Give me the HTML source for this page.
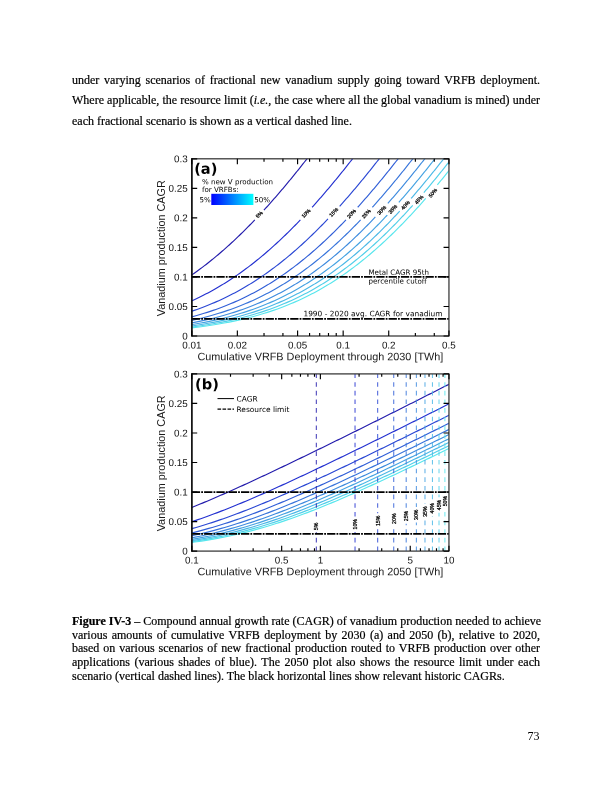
<!DOCTYPE html>
<html><head><meta charset="utf-8"><title>Page 73</title>
<style>
html,body{margin:0;padding:0;background:#fff;}
body{width:612px;height:792px;position:relative;overflow:hidden;font-family:"Liberation Serif",serif;color:#000;}
.p{position:absolute;left:72px;width:468px;font-size:12px;text-align:justify;margin:0;-webkit-text-stroke:0.2px #000;}
.body{top:69.6px;line-height:20.7px;}
.body span.l{display:block;text-align:justify;text-align-last:justify;white-space:nowrap;}
.body span.e{display:block;text-align:left;}
.cap{top:614.8px;line-height:13.8px;}
.cap span.l{display:block;text-align:justify;text-align-last:justify;white-space:nowrap;}
.cap span.e{display:block;}
.pn{position:absolute;left:527.4px;top:729.7px;font-size:12px;line-height:13.8px;}
svg text{font-family:"Liberation Sans",sans-serif;fill:#1a1a1a;}
svg text.tk{font-size:9.85px;fill:#111;}
svg text.ax{font-size:10.85px;}
svg text.an{font-family:"DejaVu Sans",sans-serif;font-size:7.1px;fill:#000;}
svg text.lg{font-size:7.45px;}
svg text.pl{font-family:"DejaVu Sans",sans-serif;font-weight:bold;font-size:14.6px;fill:#000;}
svg text.cl{font-size:5.2px;fill:#000;stroke:#000;stroke-width:0.25px;}
</style></head><body>
<p class="p body"><span class="l">under varying scenarios of fractional new vanadium supply going toward VRFB deployment.</span><span class="l">Where applicable, the resource limit (<i>i.e.</i>, the case where all the global vanadium is mined) under</span><span class="e">each fractional scenario is shown as a vertical dashed line.</span></p>
<svg width="612" height="792" viewBox="0 0 612 792" style="position:absolute;left:0;top:0">
<defs><linearGradient id="cb" x1="0" x2="1" y1="0" y2="0"><stop offset="0" stop-color="#0000ff"/><stop offset="1" stop-color="#00ffff"/></linearGradient>
<clipPath id="ca"><rect x="191.8" y="158.8" width="257.15" height="177.20"/></clipPath>
<clipPath id="cbb"><rect x="191.8" y="373.9" width="257.15" height="177.20"/></clipPath></defs>
<g clip-path="url(#ca)">
<path d="M-179.96 335.70L-83.84 334.73L-46.08 333.76L-22.06 332.79L-4.35 331.81L9.72 330.84L21.40 329.87L31.41 328.89L40.17 327.92L47.98 326.95L55.02 325.97L61.44 325.00L67.34 324.03L72.81 323.05L77.90 322.08L82.68 321.11L87.17 320.13L91.42 319.16L95.45 318.19L99.28 317.22L102.93 316.24L106.43 315.27L109.78 314.30L113.00 313.32L116.10 312.35L119.09 311.38L121.97 310.40L124.77 309.43L127.47 308.46L130.09 307.48L132.64 306.51L135.11 305.54L137.52 304.56L139.87 303.59L142.15 302.62L144.39 301.65L146.56 300.67L148.69 299.70L150.78 298.73L152.82 297.75L154.81 296.78L156.77 295.81L158.69 294.83L160.57 293.86L162.42 292.89L164.23 291.91L166.02 290.94L167.77 289.97L169.49 288.99L171.19 288.02L172.86 287.05L174.51 286.08L176.13 285.10L177.72 284.13L179.30 283.16L180.85 282.18L182.38 281.21L183.89 280.24L185.38 279.26L186.85 278.29L188.30 277.32L189.74 276.34L191.16 275.37L192.56 274.40L193.95 273.42L195.32 272.45L196.68 271.48L198.02 270.51L199.35 269.53L200.66 268.56L201.96 267.59L203.25 266.61L204.52 265.64L205.79 264.67L207.04 263.69L208.28 262.72L209.51 261.75L210.73 260.77L211.93 259.80L213.13 258.83L214.32 257.85L215.49 256.88L216.66 255.91L217.82 254.94L218.97 253.96L220.11 252.99L221.24 252.02L222.37 251.04L223.48 250.07L224.59 249.10L225.69 248.12L226.78 247.15L227.86 246.18L228.94 245.20L230.01 244.23L231.07 243.26L232.13 242.28L233.18 241.31L234.22 240.34L235.26 239.37L236.29 238.39L237.31 237.42L238.33 236.45L239.34 235.47L240.35 234.50L241.35 233.53L242.34 232.55L243.33 231.58L244.32 230.61L245.29 229.63L246.27 228.66L247.24 227.69L248.20 226.71L249.16 225.74L250.11 224.77L251.06 223.80L252.01 222.82L252.95 221.85L253.88 220.88L254.81 219.90" fill="none" stroke="#231cac" stroke-width="1.15"/>
<path d="M263.91 210.17L264.80 209.20L265.68 208.23L266.56 207.25L267.44 206.28L268.31 205.31L269.18 204.33L270.05 203.36L270.92 202.39L271.78 201.41L272.64 200.44L273.49 199.47L274.34 198.49L275.19 197.52L276.04 196.55L276.88 195.57L277.72 194.60L278.56 193.63L279.40 192.66L280.23 191.68L281.06 190.71L281.88 189.74L282.71 188.76L283.53 187.79L284.35 186.82L285.17 185.84L285.98 184.87L286.79 183.90L287.60 182.92L288.41 181.95L289.21 180.98L290.01 180.00L290.81 179.03L291.61 178.06L292.41 177.09L293.20 176.11L293.99 175.14L294.78 174.17L295.57 173.19L296.35 172.22L297.13 171.25L297.91 170.27L298.69 169.30L299.47 168.33L300.24 167.35L301.01 166.38L301.79 165.41L302.55 164.43L303.32 163.46L304.09 162.49L304.85 161.52L305.61 160.54L306.37 159.57L307.13 158.60L307.88 157.62L308.64 156.65L309.39 155.68L310.14 154.70L310.89 153.73L311.64 152.76L312.38 151.78L313.13 150.81L313.87 149.84L314.61 148.86L315.35 147.89L316.09 146.92L316.82 145.95L317.56 144.97L318.29 144.00L319.02 143.03L319.75 142.05L320.48 141.08" fill="none" stroke="#231cac" stroke-width="1.15"/>
<path d="M-134.40 335.70L-38.27 334.73L-0.52 333.76L23.51 332.79L41.22 331.81L55.28 330.84L66.96 329.87L76.97 328.89L85.73 327.92L93.54 326.95L100.58 325.97L107.00 325.00L112.90 324.03L118.37 323.05L123.47 322.08L128.24 321.11L132.74 320.13L136.98 319.16L141.01 318.19L144.84 317.22L148.50 316.24L151.99 315.27L155.34 314.30L158.56 313.32L161.66 312.35L164.65 311.38L167.54 310.40L170.33 309.43L173.03 308.46L175.65 307.48L178.20 306.51L180.68 305.54L183.08 304.56L185.43 303.59L187.72 302.62L189.95 301.65L192.13 300.67L194.26 299.70L196.34 298.73L198.38 297.75L200.38 296.78L202.33 295.81L204.25 294.83L206.13 293.86L207.98 292.89L209.80 291.91L211.58 290.94L213.33 289.97L215.06 288.99L216.75 288.02L218.42 287.05L220.07 286.08L221.69 285.10L223.28 284.13L224.86 283.16L226.41 282.18L227.94 281.21L229.45 280.24L230.94 279.26L232.41 278.29L233.87 277.32L235.30 276.34L236.72 275.37L238.13 274.40L239.51 273.42L240.88 272.45L242.24 271.48L243.58 270.51L244.91 269.53L246.22 268.56L247.52 267.59L248.81 266.61L250.09 265.64L251.35 264.67L252.60 263.69L253.84 262.72L255.07 261.75L256.29 260.77L257.50 259.80L258.69 258.83L259.88 257.85L261.06 256.88L262.23 255.91L263.38 254.94L264.53 253.96L265.67 252.99L266.81 252.02L267.93 251.04L269.04 250.07L270.15 249.10L271.25 248.12L272.34 247.15L273.43 246.18L274.50 245.20L275.57 244.23L276.64 243.26L277.69 242.28L278.74 241.31L279.78 240.34L280.82 239.37L281.85 238.39L282.87 237.42L283.89 236.45L284.90 235.47L285.91 234.50L286.91 233.53L287.90 232.55L288.89 231.58L289.88 230.61L290.86 229.63L291.83 228.66L292.80 227.69L293.76 226.71L294.72 225.74L295.68 224.77L296.63 223.80L297.57 222.82L298.51 221.85L299.45 220.88L300.38 219.90" fill="none" stroke="#2330d0" stroke-width="1.15"/>
<path d="M312.12 207.25L313.00 206.28L313.88 205.31L314.75 204.33L315.62 203.36L316.48 202.39L317.34 201.41L318.20 200.44L319.05 199.47L319.91 198.49L320.76 197.52L321.60 196.55L322.45 195.57L323.29 194.60L324.12 193.63L324.96 192.66L325.79 191.68L326.62 190.71L327.45 189.74L328.27 188.76L329.09 187.79L329.91 186.82L330.73 185.84L331.54 184.87L332.35 183.90L333.16 182.92L333.97 181.95L334.77 180.98L335.58 180.00L336.38 179.03L337.17 178.06L337.97 177.09L338.76 176.11L339.55 175.14L340.34 174.17L341.13 173.19L341.91 172.22L342.70 171.25L343.48 170.27L344.25 169.30L345.03 168.33L345.81 167.35L346.58 166.38L347.35 165.41L348.12 164.43L348.88 163.46L349.65 162.49L350.41 161.52L351.17 160.54L351.93 159.57L352.69 158.60L353.45 157.62L354.20 156.65L354.95 155.68L355.70 154.70L356.45 153.73L357.20 152.76L357.95 151.78L358.69 150.81L359.43 149.84L360.17 148.86L360.91 147.89L361.65 146.92L362.39 145.95L363.12 144.97L363.86 144.00L364.59 143.03L365.32 142.05L366.05 141.08" fill="none" stroke="#2330d0" stroke-width="1.15"/>
<path d="M-107.75 335.70L-11.62 334.73L26.13 333.76L50.16 332.79L67.87 331.81L81.93 330.84L93.61 329.87L103.62 328.89L112.39 327.92L120.19 326.95L127.23 325.97L133.65 325.00L139.55 324.03L145.02 323.05L150.12 322.08L154.89 321.11L159.39 320.13L163.63 319.16L167.66 318.19L171.49 317.22L175.15 316.24L178.64 315.27L182.00 314.30L185.22 313.32L188.32 312.35L191.30 311.38L194.19 310.40L196.98 309.43L199.68 308.46L202.31 307.48L204.85 306.51L207.33 305.54L209.74 304.56L212.08 303.59L214.37 302.62L216.60 301.65L218.78 300.67L220.91 299.70L222.99 298.73L225.03 297.75L227.03 296.78L228.99 295.81L230.90 294.83L232.79 293.86L234.63 292.89L236.45 291.91L238.23 290.94L239.99 289.97L241.71 288.99L243.41 288.02L245.08 287.05L246.72 286.08L248.34 285.10L249.94 284.13L251.51 283.16L253.06 282.18L254.59 281.21L256.10 280.24L257.59 279.26L259.07 278.29L260.52 277.32L261.96 276.34L263.38 275.37L264.78 274.40L266.16 273.42L267.54 272.45L268.89 271.48L270.23 270.51L271.56 269.53L272.88 268.56L274.18 267.59L275.46 266.61L276.74 265.64L278.00 264.67L279.25 263.69L280.49 262.72L281.72 261.75L282.94 260.77L284.15 259.80L285.35 258.83L286.53 257.85L287.71 256.88L288.88 255.91L290.04 254.94L291.19 253.96L292.33 252.99L293.46 252.02L294.58 251.04L295.70 250.07L296.80 249.10L297.90 248.12L298.99 247.15L300.08 246.18L301.16 245.20L302.23 244.23L303.29 243.26L304.34 242.28L305.39 241.31L306.44 240.34L307.47 239.37L308.50 238.39L309.53 237.42L310.54 236.45L311.56 235.47L312.56 234.50L313.56 233.53L314.56 232.55L315.55 231.58L316.53 230.61L317.51 229.63L318.48 228.66L319.45 227.69L320.42 226.71L321.37 225.74L322.33 224.77L323.28 223.80L324.22 222.82L325.16 221.85L326.10 220.88L327.03 219.90L327.96 218.93" fill="none" stroke="#2a47d4" stroke-width="1.15"/>
<path d="M339.65 206.28L340.53 205.31L341.40 204.33L342.27 203.36L343.13 202.39L343.99 201.41L344.85 200.44L345.71 199.47L346.56 198.49L347.41 197.52L348.25 196.55L349.10 195.57L349.94 194.60L350.78 193.63L351.61 192.66L352.44 191.68L353.27 190.71L354.10 189.74L354.92 188.76L355.75 187.79L356.56 186.82L357.38 185.84L358.20 184.87L359.01 183.90L359.82 182.92L360.62 181.95L361.43 180.98L362.23 180.00L363.03 179.03L363.83 178.06L364.62 177.09L365.41 176.11L366.21 175.14L366.99 174.17L367.78 173.19L368.57 172.22L369.35 171.25L370.13 170.27L370.91 169.30L371.68 168.33L372.46 167.35L373.23 166.38L374.00 165.41L374.77 164.43L375.54 163.46L376.30 162.49L377.06 161.52L377.83 160.54L378.58 159.57L379.34 158.60L380.10 157.62L380.85 156.65L381.61 155.68L382.36 154.70L383.11 153.73L383.85 152.76L384.60 151.78L385.34 150.81L386.09 149.84L386.83 148.86L387.57 147.89L388.30 146.92L389.04 145.95L389.77 144.97L390.51 144.00L391.24 143.03L391.97 142.05L392.70 141.08" fill="none" stroke="#2a47d4" stroke-width="1.15"/>
<path d="M-88.84 335.70L7.29 334.73L45.04 333.76L69.07 332.79L86.78 331.81L100.84 330.84L112.52 329.87L122.53 328.89L131.30 327.92L139.10 326.95L146.14 325.97L152.56 325.00L158.46 324.03L163.93 323.05L169.03 322.08L173.80 321.11L178.30 320.13L182.54 319.16L186.57 318.19L190.40 317.22L194.06 316.24L197.55 315.27L200.91 314.30L204.13 313.32L207.23 312.35L210.21 311.38L213.10 310.40L215.89 309.43L218.60 308.46L221.22 307.48L223.76 306.51L226.24 305.54L228.65 304.56L230.99 303.59L233.28 302.62L235.51 301.65L237.69 300.67L239.82 299.70L241.90 298.73L243.94 297.75L245.94 296.78L247.90 295.81L249.81 294.83L251.70 293.86L253.54 292.89L255.36 291.91L257.14 290.94L258.90 289.97L260.62 288.99L262.32 288.02L263.99 287.05L265.63 286.08L267.25 285.10L268.85 284.13L270.42 283.16L271.97 282.18L273.50 281.21L275.01 280.24L276.50 279.26L277.98 278.29L279.43 277.32L280.87 276.34L282.29 275.37L283.69 274.40L285.08 273.42L286.45 272.45L287.80 271.48L289.14 270.51L290.47 269.53L291.79 268.56L293.09 267.59L294.37 266.61L295.65 265.64L296.91 264.67L298.16 263.69L299.40 262.72L300.63 261.75L301.85 260.77L303.06 259.80L304.26 258.83L305.44 257.85L306.62 256.88L307.79 255.91L308.95 254.94L310.10 253.96L311.24 252.99L312.37 252.02L313.49 251.04L314.61 250.07L315.71 249.10L316.81 248.12L317.91 247.15L318.99 246.18L320.07 245.20L321.14 244.23L322.20 243.26L323.25 242.28L324.30 241.31L325.35 240.34L326.38 239.37L327.41 238.39L328.44 237.42L329.45 236.45L330.47 235.47L331.47 234.50L332.47 233.53L333.47 232.55L334.46 231.58L335.44 230.61L336.42 229.63L337.39 228.66L338.36 227.69L339.33 226.71L340.28 225.74L341.24 224.77L342.19 223.80L343.13 222.82L344.07 221.85L345.01 220.88L345.94 219.90" fill="none" stroke="#305ed7" stroke-width="1.15"/>
<path d="M357.69 207.25L358.56 206.28L359.44 205.31L360.31 204.33L361.18 203.36L362.04 202.39L362.90 201.41L363.76 200.44L364.62 199.47L365.47 198.49L366.32 197.52L367.17 196.55L368.01 195.57L368.85 194.60L369.69 193.63L370.52 192.66L371.35 191.68L372.18 190.71L373.01 189.74L373.83 188.76L374.66 187.79L375.47 186.82L376.29 185.84L377.11 184.87L377.92 183.90L378.73 182.92L379.53 181.95L380.34 180.98L381.14 180.00L381.94 179.03L382.74 178.06L383.53 177.09L384.33 176.11L385.12 175.14L385.90 174.17L386.69 173.19L387.48 172.22L388.26 171.25L389.04 170.27L389.82 169.30L390.59 168.33L391.37 167.35L392.14 166.38L392.91 165.41L393.68 164.43L394.45 163.46L395.21 162.49L395.97 161.52L396.74 160.54L397.50 159.57L398.25 158.60L399.01 157.62L399.76 156.65L400.52 155.68L401.27 154.70L402.02 153.73L402.76 152.76L403.51 151.78L404.25 150.81L405.00 149.84L405.74 148.86L406.48 147.89L407.21 146.92L407.95 145.95L408.68 144.97L409.42 144.00L410.15 143.03L410.88 142.05L411.61 141.08" fill="none" stroke="#305ed7" stroke-width="1.15"/>
<path d="M-74.17 335.70L21.96 334.73L59.71 333.76L83.74 332.79L101.45 331.81L115.51 330.84L127.19 329.87L137.20 328.89L145.96 327.92L153.77 326.95L160.81 325.97L167.23 325.00L173.13 324.03L178.60 323.05L183.70 322.08L188.47 321.11L192.97 320.13L197.21 319.16L201.24 318.19L205.07 317.22L208.73 316.24L212.22 315.27L215.57 314.30L218.79 313.32L221.89 312.35L224.88 311.38L227.77 310.40L230.56 309.43L233.26 308.46L235.89 307.48L238.43 306.51L240.91 305.54L243.31 304.56L245.66 303.59L247.95 302.62L250.18 301.65L252.36 300.67L254.49 299.70L256.57 298.73L258.61 297.75L260.61 296.78L262.56 295.81L264.48 294.83L266.37 293.86L268.21 292.89L270.03 291.91L271.81 290.94L273.56 289.97L275.29 288.99L276.98 288.02L278.65 287.05L280.30 286.08L281.92 285.10L283.52 284.13L285.09 283.16L286.64 282.18L288.17 281.21L289.68 280.24L291.17 279.26L292.64 278.29L294.10 277.32L295.53 276.34L296.95 275.37L298.36 274.40L299.74 273.42L301.11 272.45L302.47 271.48L303.81 270.51L305.14 269.53L306.45 268.56L307.75 267.59L309.04 266.61L310.32 265.64L311.58 264.67L312.83 263.69L314.07 262.72L315.30 261.75L316.52 260.77L317.73 259.80L318.92 258.83L320.11 257.85L321.29 256.88L322.46 255.91L323.61 254.94L324.76 253.96L325.90 252.99L327.04 252.02L328.16 251.04L329.27 250.07L330.38 249.10L331.48 248.12L332.57 247.15L333.66 246.18L334.73 245.20L335.80 244.23L336.87 243.26L337.92 242.28L338.97 241.31L340.01 240.34L341.05 239.37L342.08 238.39L343.10 237.42L344.12 236.45L345.13 235.47L346.14 234.50L347.14 233.53L348.14 232.55L349.12 231.58L350.11 230.61L351.09 229.63L352.06 228.66L353.03 227.69L353.99 226.71L354.95 225.74L355.91 224.77L356.86 223.80L357.80 222.82L358.74 221.85L359.68 220.88L360.61 219.90" fill="none" stroke="#3774db" stroke-width="1.15"/>
<path d="M372.35 207.25L373.23 206.28L374.11 205.31L374.98 204.33L375.85 203.36L376.71 202.39L377.57 201.41L378.43 200.44L379.29 199.47L380.14 198.49L380.99 197.52L381.83 196.55L382.68 195.57L383.52 194.60L384.35 193.63L385.19 192.66L386.02 191.68L386.85 190.71L387.68 189.74L388.50 188.76L389.32 187.79L390.14 186.82L390.96 185.84L391.77 184.87L392.58 183.90L393.39 182.92L394.20 181.95L395.01 180.98L395.81 180.00L396.61 179.03L397.40 178.06L398.20 177.09L398.99 176.11L399.78 175.14L400.57 174.17L401.36 173.19L402.14 172.22L402.93 171.25L403.71 170.27L404.49 169.30L405.26 168.33L406.04 167.35L406.81 166.38L407.58 165.41L408.35 164.43L409.11 163.46L409.88 162.49L410.64 161.52L411.40 160.54L412.16 159.57L412.92 158.60L413.68 157.62L414.43 156.65L415.18 155.68L415.93 154.70L416.68 153.73L417.43 152.76L418.18 151.78L418.92 150.81L419.66 149.84L420.40 148.86L421.14 147.89L421.88 146.92L422.62 145.95L423.35 144.97L424.09 144.00L424.82 143.03L425.55 142.05L426.28 141.08" fill="none" stroke="#3774db" stroke-width="1.15"/>
<path d="M-62.19 335.70L33.94 334.73L71.70 333.76L95.72 332.79L113.43 331.81L127.49 330.84L139.18 329.87L149.18 328.89L157.95 327.92L165.75 326.95L172.79 325.97L179.21 325.00L185.12 324.03L190.59 323.05L195.68 322.08L200.46 321.11L204.95 320.13L209.20 319.16L213.22 318.19L217.06 317.22L220.71 316.24L224.21 315.27L227.56 314.30L230.78 313.32L233.88 312.35L236.87 311.38L239.75 310.40L242.54 309.43L245.25 308.46L247.87 307.48L250.42 306.51L252.89 305.54L255.30 304.56L257.65 303.59L259.93 302.62L262.16 301.65L264.34 300.67L266.47 299.70L268.56 298.73L270.59 297.75L272.59 296.78L274.55 295.81L276.47 294.83L278.35 293.86L280.20 292.89L282.01 291.91L283.80 290.94L285.55 289.97L287.27 288.99L288.97 288.02L290.64 287.05L292.28 286.08L293.90 285.10L295.50 284.13L297.07 283.16L298.63 282.18L300.16 281.21L301.67 280.24L303.16 279.26L304.63 278.29L306.08 277.32L307.52 276.34L308.94 275.37L310.34 274.40L311.73 273.42L313.10 272.45L314.46 271.48L315.80 270.51L317.12 269.53L318.44 268.56L319.74 267.59L321.03 266.61L322.30 265.64L323.57 264.67L324.82 263.69L326.06 262.72L327.29 261.75L328.50 260.77L329.71 259.80L330.91 258.83L332.10 257.85L333.27 256.88L334.44 255.91L335.60 254.94L336.75 253.96L337.89 252.99L339.02 252.02L340.14 251.04L341.26 250.07L342.37 249.10L343.47 248.12L344.56 247.15L345.64 246.18L346.72 245.20L347.79 244.23L348.85 243.26L349.91 242.28L350.96 241.31L352.00 240.34L353.04 239.37L354.07 238.39L355.09 237.42L356.11 236.45L357.12 235.47L358.12 234.50L359.13 233.53L360.12 232.55L361.11 231.58L362.09 230.61L363.07 229.63L364.05 228.66L365.01 227.69L365.98 226.71L366.94 225.74L367.89 224.77L368.84 223.80L369.79 222.82L370.73 221.85L371.66 220.88L372.59 219.90L373.52 218.93L374.44 217.96L375.36 216.98" fill="none" stroke="#3e8bde" stroke-width="1.15"/>
<path d="M387.83 203.36L388.70 202.39L389.56 201.41L390.41 200.44L391.27 199.47L392.12 198.49L392.97 197.52L393.82 196.55L394.66 195.57L395.50 194.60L396.34 193.63L397.17 192.66L398.01 191.68L398.84 190.71L399.66 189.74L400.49 188.76L401.31 187.79L402.13 186.82L402.94 185.84L403.76 184.87L404.57 183.90L405.38 182.92L406.19 181.95L406.99 180.98L407.79 180.00L408.59 179.03L409.39 178.06L410.18 177.09L410.98 176.11L411.77 175.14L412.56 174.17L413.34 173.19L414.13 172.22L414.91 171.25L415.69 170.27L416.47 169.30L417.25 168.33L418.02 167.35L418.79 166.38L419.56 165.41L420.33 164.43L421.10 163.46L421.86 162.49L422.63 161.52L423.39 160.54L424.15 159.57L424.91 158.60L425.66 157.62L426.42 156.65L427.17 155.68L427.92 154.70L428.67 153.73L429.42 152.76L430.16 151.78L430.91 150.81L431.65 149.84L432.39 148.86L433.13 147.89L433.87 146.92L434.60 145.95L435.34 144.97L436.07 144.00L436.80 143.03L437.53 142.05L438.26 141.08" fill="none" stroke="#3e8bde" stroke-width="1.15"/>
<path d="M-52.05 335.70L44.08 334.73L81.83 333.76L105.86 332.79L123.57 331.81L137.63 330.84L149.31 329.87L159.32 328.89L168.08 327.92L175.89 326.95L182.93 325.97L189.35 325.00L195.25 324.03L200.72 323.05L205.81 322.08L210.59 321.11L215.08 320.13L219.33 319.16L223.36 318.19L227.19 317.22L230.84 316.24L234.34 315.27L237.69 314.30L240.91 313.32L244.01 312.35L247.00 311.38L249.89 310.40L252.68 309.43L255.38 308.46L258.00 307.48L260.55 306.51L263.02 305.54L265.43 304.56L267.78 303.59L270.06 302.62L272.30 301.65L274.48 300.67L276.61 299.70L278.69 298.73L280.73 297.75L282.72 296.78L284.68 295.81L286.60 294.83L288.48 293.86L290.33 292.89L292.15 291.91L293.93 290.94L295.68 289.97L297.41 288.99L299.10 288.02L300.77 287.05L302.42 286.08L304.04 285.10L305.63 284.13L307.21 283.16L308.76 282.18L310.29 281.21L311.80 280.24L313.29 279.26L314.76 278.29L316.22 277.32L317.65 276.34L319.07 275.37L320.47 274.40L321.86 273.42L323.23 272.45L324.59 271.48L325.93 270.51L327.26 269.53L328.57 268.56L329.87 267.59L331.16 266.61L332.44 265.64L333.70 264.67L334.95 263.69L336.19 262.72L337.42 261.75L338.64 260.77L339.84 259.80L341.04 258.83L342.23 257.85L343.41 256.88L344.57 255.91L345.73 254.94L346.88 253.96L348.02 252.99L349.15 252.02L350.28 251.04L351.39 250.07L352.50 249.10L353.60 248.12L354.69 247.15L355.77 246.18L356.85 245.20L357.92 244.23L358.98 243.26L360.04 242.28L361.09 241.31L362.13 240.34L363.17 239.37L364.20 238.39L365.22 237.42L366.24 236.45L367.25 235.47L368.26 234.50L369.26 233.53L370.25 232.55L371.24 231.58L372.23 230.61L373.21 229.63L374.18 228.66L375.15 227.69L376.11 226.71L377.07 225.74L378.02 224.77L378.97 223.80L379.92 222.82L380.86 221.85L381.79 220.88L382.73 219.90L383.65 218.93L384.58 217.96L385.50 216.98L386.41 216.01L387.32 215.04" fill="none" stroke="#44a2e2" stroke-width="1.15"/>
<path d="M398.83 202.39L399.69 201.41L400.55 200.44L401.40 199.47L402.26 198.49L403.10 197.52L403.95 196.55L404.79 195.57L405.63 194.60L406.47 193.63L407.31 192.66L408.14 191.68L408.97 190.71L409.80 189.74L410.62 188.76L411.44 187.79L412.26 186.82L413.08 185.84L413.89 184.87L414.70 183.90L415.51 182.92L416.32 181.95L417.12 180.98L417.92 180.00L418.72 179.03L419.52 178.06L420.32 177.09L421.11 176.11L421.90 175.14L422.69 174.17L423.48 173.19L424.26 172.22L425.04 171.25L425.82 170.27L426.60 169.30L427.38 168.33L428.15 167.35L428.93 166.38L429.70 165.41L430.47 164.43L431.23 163.46L432.00 162.49L432.76 161.52L433.52 160.54L434.28 159.57L435.04 158.60L435.79 157.62L436.55 156.65L437.30 155.68L438.05 154.70L438.80 153.73L439.55 152.76L440.29 151.78L441.04 150.81L441.78 149.84L442.52 148.86L443.26 147.89L444.00 146.92L444.74 145.95L445.47 144.97L446.20 144.00L446.94 143.03L447.67 142.05L448.39 141.08" fill="none" stroke="#44a2e2" stroke-width="1.15"/>
<path d="M-43.27 335.70L52.85 334.73L90.61 333.76L114.63 332.79L132.34 331.81L146.40 330.84L158.09 329.87L168.10 328.89L176.86 327.92L184.66 326.95L191.70 325.97L198.12 325.00L204.03 324.03L209.50 323.05L214.59 322.08L219.37 321.11L223.86 320.13L228.11 319.16L232.13 318.19L235.97 317.22L239.62 316.24L243.12 315.27L246.47 314.30L249.69 313.32L252.79 312.35L255.78 311.38L258.66 310.40L261.45 309.43L264.16 308.46L266.78 307.48L269.33 306.51L271.80 305.54L274.21 304.56L276.56 303.59L278.84 302.62L281.07 301.65L283.25 300.67L285.38 299.70L287.47 298.73L289.51 297.75L291.50 296.78L293.46 295.81L295.38 294.83L297.26 293.86L299.11 292.89L300.92 291.91L302.71 290.94L304.46 289.97L306.18 288.99L307.88 288.02L309.55 287.05L311.19 286.08L312.81 285.10L314.41 284.13L315.98 283.16L317.54 282.18L319.07 281.21L320.58 280.24L322.07 279.26L323.54 278.29L324.99 277.32L326.43 276.34L327.85 275.37L329.25 274.40L330.64 273.42L332.01 272.45L333.37 271.48L334.71 270.51L336.03 269.53L337.35 268.56L338.65 267.59L339.94 266.61L341.21 265.64L342.48 264.67L343.73 263.69L344.97 262.72L346.20 261.75L347.41 260.77L348.62 259.80L349.82 258.83L351.01 257.85L352.18 256.88L353.35 255.91L354.51 254.94L355.66 253.96L356.80 252.99L357.93 252.02L359.05 251.04L360.17 250.07L361.28 249.10L362.38 248.12L363.47 247.15L364.55 246.18L365.63 245.20L366.70 244.23L367.76 243.26L368.82 242.28L369.87 241.31L370.91 240.34L371.95 239.37L372.98 238.39L374.00 237.42L375.02 236.45L376.03 235.47L377.04 234.50L378.04 233.53L379.03 232.55L380.02 231.58L381.00 230.61L381.98 229.63L382.96 228.66L383.92 227.69L384.89 226.71L385.85 225.74L386.80 224.77L387.75 223.80L388.70 222.82L389.64 221.85L390.57 220.88L391.50 219.90L392.43 218.93L393.35 217.96L394.27 216.98L395.19 216.01L396.10 215.04L397.01 214.06L397.91 213.09L398.81 212.12L399.70 211.14" fill="none" stroke="#4bb8e6" stroke-width="1.15"/>
<path d="M411.03 198.49L411.88 197.52L412.73 196.55L413.57 195.57L414.41 194.60L415.25 193.63L416.08 192.66L416.92 191.68L417.75 190.71L418.57 189.74L419.40 188.76L420.22 187.79L421.04 186.82L421.85 185.84L422.67 184.87L423.48 183.90L424.29 182.92L425.10 181.95L425.90 180.98L426.70 180.00L427.50 179.03L428.30 178.06L429.09 177.09L429.89 176.11L430.68 175.14L431.47 174.17L432.25 173.19L433.04 172.22L433.82 171.25L434.60 170.27L435.38 169.30L436.16 168.33L436.93 167.35L437.70 166.38L438.47 165.41L439.24 164.43L440.01 163.46L440.77 162.49L441.54 161.52L442.30 160.54L443.06 159.57L443.82 158.60L444.57 157.62L445.33 156.65L446.08 155.68L446.83 154.70L447.58 153.73L448.33 152.76L449.07 151.78L449.82 150.81L450.56 149.84L451.30 148.86L452.04 147.89L452.78 146.92L453.51 145.95L454.25 144.97L454.98 144.00L455.71 143.03L456.44 142.05L457.17 141.08" fill="none" stroke="#4bb8e6" stroke-width="1.15"/>
<path d="M-35.53 335.70L60.60 334.73L98.35 333.76L122.38 332.79L140.09 331.81L154.15 330.84L165.83 329.87L175.84 328.89L184.60 327.92L192.41 326.95L199.45 325.97L205.87 325.00L211.77 324.03L217.24 323.05L222.33 322.08L227.11 321.11L231.60 320.13L235.85 319.16L239.88 318.19L243.71 317.22L247.36 316.24L250.86 315.27L254.21 314.30L257.43 313.32L260.53 312.35L263.52 311.38L266.40 310.40L269.20 309.43L271.90 308.46L274.52 307.48L277.07 306.51L279.54 305.54L281.95 304.56L284.30 303.59L286.58 302.62L288.82 301.65L291.00 300.67L293.13 299.70L295.21 298.73L297.25 297.75L299.24 296.78L301.20 295.81L303.12 294.83L305.00 293.86L306.85 292.89L308.66 291.91L310.45 290.94L312.20 289.97L313.93 288.99L315.62 288.02L317.29 287.05L318.94 286.08L320.56 285.10L322.15 284.13L323.73 283.16L325.28 282.18L326.81 281.21L328.32 280.24L329.81 279.26L331.28 278.29L332.74 277.32L334.17 276.34L335.59 275.37L336.99 274.40L338.38 273.42L339.75 272.45L341.11 271.48L342.45 270.51L343.78 269.53L345.09 268.56L346.39 267.59L347.68 266.61L348.96 265.64L350.22 264.67L351.47 263.69L352.71 262.72L353.94 261.75L355.16 260.77L356.36 259.80L357.56 258.83L358.75 257.85L359.93 256.88L361.09 255.91L362.25 254.94L363.40 253.96L364.54 252.99L365.67 252.02L366.80 251.04L367.91 250.07L369.02 249.10L370.12 248.12L371.21 247.15L372.29 246.18L373.37 245.20L374.44 244.23L375.50 243.26L376.56 242.28L377.61 241.31L378.65 240.34L379.69 239.37L380.72 238.39L381.74 237.42L382.76 236.45L383.77 235.47L384.78 234.50L385.78 233.53L386.77 232.55L387.76 231.58L388.75 230.61L389.72 229.63L390.70 228.66L391.67 227.69L392.63 226.71L393.59 225.74L394.54 224.77L395.49 223.80L396.44 222.82L397.38 221.85L398.31 220.88L399.25 219.90L400.17 218.93L401.10 217.96L402.01 216.98L402.93 216.01L403.84 215.04L404.75 214.06L405.65 213.09L406.55 212.12L407.45 211.14L408.34 210.17L409.23 209.20L410.11 208.23L410.99 207.25L411.87 206.28L412.74 205.31" fill="none" stroke="#51cfe9" stroke-width="1.15"/>
<path d="M423.83 192.66L424.66 191.68L425.49 190.71L426.32 189.74L427.14 188.76L427.96 187.79L428.78 186.82L429.60 185.84L430.41 184.87L431.22 183.90L432.03 182.92L432.84 181.95L433.64 180.98L434.44 180.00L435.24 179.03L436.04 178.06L436.84 177.09L437.63 176.11L438.42 175.14L439.21 174.17L440.00 173.19L440.78 172.22L441.56 171.25L442.34 170.27L443.12 169.30L443.90 168.33L444.67 167.35L445.45 166.38L446.22 165.41L446.98 164.43L447.75 163.46L448.52 162.49L449.28 161.52L450.04 160.54L450.80 159.57L451.56 158.60L452.31 157.62L453.07 156.65L453.82 155.68L454.57 154.70L455.32 153.73L456.07 152.76L456.81 151.78L457.56 150.81L458.30 149.84L459.04 148.86L459.78 147.89L460.52 146.92L461.26 145.95L461.99 144.97L462.72 144.00L463.45 143.03L464.19 142.05L464.91 141.08" fill="none" stroke="#51cfe9" stroke-width="1.15"/>
<path d="M-28.61 335.70L67.52 334.73L105.27 333.76L129.30 332.79L147.01 331.81L161.07 330.84L172.76 329.87L182.76 328.89L191.53 327.92L199.33 326.95L206.37 325.97L212.79 325.00L218.70 324.03L224.16 323.05L229.26 322.08L234.03 321.11L238.53 320.13L242.78 319.16L246.80 318.19L250.63 317.22L254.29 316.24L257.79 315.27L261.14 314.30L264.36 313.32L267.46 312.35L270.44 311.38L273.33 310.40L276.12 309.43L278.83 308.46L281.45 307.48L283.99 306.51L286.47 305.54L288.88 304.56L291.22 303.59L293.51 302.62L295.74 301.65L297.92 300.67L300.05 299.70L302.13 298.73L304.17 297.75L306.17 296.78L308.13 295.81L310.05 294.83L311.93 293.86L313.78 292.89L315.59 291.91L317.37 290.94L319.13 289.97L320.85 288.99L322.55 288.02L324.22 287.05L325.86 286.08L327.48 285.10L329.08 284.13L330.65 283.16L332.20 282.18L333.73 281.21L335.24 280.24L336.74 279.26L338.21 278.29L339.66 277.32L341.10 276.34L342.52 275.37L343.92 274.40L345.31 273.42L346.68 272.45L348.03 271.48L349.38 270.51L350.70 269.53L352.02 268.56L353.32 267.59L354.61 266.61L355.88 265.64L357.14 264.67L358.40 263.69L359.64 262.72L360.86 261.75L362.08 260.77L363.29 259.80L364.49 258.83L365.67 257.85L366.85 256.88L368.02 255.91L369.18 254.94L370.33 253.96L371.47 252.99L372.60 252.02L373.72 251.04L374.84 250.07L375.94 249.10L377.04 248.12L378.14 247.15L379.22 246.18L380.30 245.20L381.37 244.23L382.43 243.26L383.49 242.28L384.53 241.31L385.58 240.34L386.61 239.37L387.64 238.39L388.67 237.42L389.69 236.45L390.70 235.47L391.70 234.50L392.70 233.53L393.70 232.55L394.69 231.58L395.67 230.61L396.65 229.63L397.62 228.66L398.59 227.69L399.56 226.71L400.52 225.74L401.47 224.77L402.42 223.80L403.36 222.82L404.30 221.85L405.24 220.88L406.17 219.90L407.10 218.93L408.02 217.96L408.94 216.98L409.86 216.01L410.77 215.04L411.67 214.06L412.58 213.09L413.48 212.12L414.37 211.14L415.26 210.17L416.15 209.20L417.04 208.23L417.92 207.25L418.80 206.28L419.67 205.31L420.54 204.33L421.41 203.36L422.27 202.39L423.13 201.41L423.99 200.44L424.85 199.47L425.70 198.49" fill="none" stroke="#58e6ed" stroke-width="1.15"/>
<path d="M437.34 184.87L438.15 183.90L438.96 182.92L439.76 181.95L440.57 180.98L441.37 180.00L442.17 179.03L442.97 178.06L443.76 177.09L444.56 176.11L445.35 175.14L446.14 174.17L446.92 173.19L447.71 172.22L448.49 171.25L449.27 170.27L450.05 169.30L450.82 168.33L451.60 167.35L452.37 166.38L453.14 165.41L453.91 164.43L454.68 163.46L455.44 162.49L456.21 161.52L456.97 160.54L457.73 159.57L458.48 158.60L459.24 157.62L459.99 156.65L460.75 155.68L461.50 154.70L462.25 153.73L462.99 152.76L463.74 151.78L464.48 150.81L465.23 149.84L465.97 148.86L466.71 147.89L467.44 146.92L468.18 145.95L468.92 144.97L469.65 144.00L470.38 143.03L471.11 142.05L471.84 141.08" fill="none" stroke="#58e6ed" stroke-width="1.15"/>
</g>
<text class="cl" transform="translate(259.60 214.83) rotate(-47.0)" text-anchor="middle" y="1.4">5%</text>
<text class="cl" transform="translate(306.30 213.61) rotate(-47.1)" text-anchor="middle" y="1.4">10%</text>
<text class="cl" transform="translate(334.00 212.48) rotate(-47.3)" text-anchor="middle" y="1.5">15%</text>
<text class="cl" transform="translate(351.70 213.79) rotate(-47.1)" text-anchor="middle" y="1.6">20%</text>
<text class="cl" transform="translate(366.30 213.86) rotate(-47.1)" text-anchor="middle" y="1.7">25%</text>
<text class="cl" transform="translate(381.60 210.26) rotate(-47.5)" text-anchor="middle" y="1.9">30%</text>
<text class="cl" transform="translate(392.80 209.10) rotate(-47.7)" text-anchor="middle" y="1.9">35%</text>
<text class="cl" transform="translate(405.20 205.08) rotate(-48.2)" text-anchor="middle" y="2.1">40%</text>
<text class="cl" transform="translate(418.30 199.04) rotate(-48.8)" text-anchor="middle" y="2.7">45%</text>
<text class="cl" transform="translate(431.50 191.78) rotate(-49.5)" text-anchor="middle" y="3.6">50%</text>
<path d="M191.8 276.93H448.95" stroke="#000" stroke-width="1.7" stroke-dasharray="8.3 1.1 1.8 1.1" fill="none"/>
<path d="M191.8 318.87H448.95" stroke="#000" stroke-width="1.7" stroke-dasharray="8.3 1.1 1.8 1.1" fill="none"/>
<rect x="191.8" y="158.8" width="257.15" height="177.20" fill="none" stroke="#3c3c3c" stroke-width="1.3"/>
<path d="M191.9 158.20000000000002V336.6" stroke="#000" stroke-width="1.3" fill="none"/>
<path d="M191.80 336.0v-5.4M191.80 158.8v5.4M237.36 336.0v-5.4M237.36 158.8v5.4M297.59 336.0v-5.4M297.59 158.8v5.4M343.16 336.0v-5.4M343.16 158.8v5.4M388.72 336.0v-5.4M388.72 158.8v5.4M448.95 336.0v-5.4M448.95 158.8v5.4M264.02 336.0v-2.9M264.02 158.8v2.9M282.93 336.0v-2.9M282.93 158.8v2.9M309.58 336.0v-2.9M309.58 158.8v2.9M319.71 336.0v-2.9M319.71 158.8v2.9M328.49 336.0v-2.9M328.49 158.8v2.9M336.23 336.0v-2.9M336.23 158.8v2.9M415.37 336.0v-2.9M415.37 158.8v2.9M434.28 336.0v-2.9M434.28 158.8v2.9M191.8 336.00h5.4M448.95 336.00h-5.4M191.8 306.47h5.4M448.95 306.47h-5.4M191.8 276.93h5.4M448.95 276.93h-5.4M191.8 247.40h5.4M448.95 247.40h-5.4M191.8 217.87h5.4M448.95 217.87h-5.4M191.8 188.33h5.4M448.95 188.33h-5.4M191.8 158.80h5.4M448.95 158.80h-5.4" stroke="#000" stroke-width="1.15" fill="none"/>
<text class="tk" transform="translate(191.80 348.40) rotate(0.03)" text-anchor="middle">0.01</text>
<text class="tk" transform="translate(237.36 348.40) rotate(0.03)" text-anchor="middle">0.02</text>
<text class="tk" transform="translate(297.59 348.40) rotate(0.03)" text-anchor="middle">0.05</text>
<text class="tk" transform="translate(343.16 348.40) rotate(0.03)" text-anchor="middle">0.1</text>
<text class="tk" transform="translate(388.72 348.40) rotate(0.03)" text-anchor="middle">0.2</text>
<text class="tk" transform="translate(448.95 348.40) rotate(0.03)" text-anchor="middle">0.5</text>
<text class="tk" transform="translate(187.70 339.50) rotate(0.03)" text-anchor="end">0</text>
<text class="tk" transform="translate(187.70 309.97) rotate(0.03)" text-anchor="end">0.05</text>
<text class="tk" transform="translate(187.70 280.43) rotate(0.03)" text-anchor="end">0.1</text>
<text class="tk" transform="translate(187.70 250.90) rotate(0.03)" text-anchor="end">0.15</text>
<text class="tk" transform="translate(187.70 221.37) rotate(0.03)" text-anchor="end">0.2</text>
<text class="tk" transform="translate(187.70 191.83) rotate(0.03)" text-anchor="end">0.25</text>
<text class="tk" transform="translate(187.70 162.30) rotate(0.03)" text-anchor="end">0.3</text>
<rect x="211.3" y="193.8" width="42.1" height="11.2" fill="url(#cb)"/>
<text class="pl" transform="translate(194.2 173.8) rotate(0.03)">(a)</text>
<text class="an" transform="translate(201.9 184.3) rotate(0.03)">% new V production</text>
<text class="an" transform="translate(201.9 191.9) rotate(0.03)">for VRFBs:</text>
<text class="an" transform="translate(199.6 202.3) rotate(0.03)">5%</text>
<text class="an" transform="translate(254.2 202.3) rotate(0.03)">50%</text>
<text class="an" transform="translate(368.5 274.8) rotate(0.03)">Metal CAGR 95th</text>
<text class="an" transform="translate(368.5 283.6) rotate(0.03)">percentile cutoff</text>
<text class="an lg" transform="translate(303.4 316.2) rotate(0.03)">1990 - 2020 avg. CAGR for vanadium</text>
<text class="ax" transform="translate(320.38 360.2) rotate(0.03)" text-anchor="middle">Cumulative VRFB Deployment through 2030 [TWh]</text>
<text class="ax" transform="translate(164.9 248.20) rotate(-90)" text-anchor="middle">Vanadium production CAGR</text>
<g clip-path="url(#cbb)">
<path d="M-133.20 550.80L-50.92 549.83L-18.22 548.86L2.82 547.89L18.50 546.91L31.08 545.94L41.66 544.97L50.81 543.99L58.92 543.02L66.21 542.05L72.86 541.07L79.00 540.10L84.69 539.13L90.03 538.15L95.06 537.18L99.81 536.21L104.34 535.23L108.66 534.26L112.80 533.29L116.78 532.32L120.62 531.34L124.33 530.37L127.92 529.40L131.41 528.42L134.80 527.45L138.10 526.48L141.32 525.50L144.47 524.53L147.54 523.56L150.56 522.58L153.51 521.61L156.41 520.64L159.27 519.66L162.07 518.69L164.83 517.72L167.55 516.75L170.23 515.77L172.87 514.80L175.48 513.83L178.06 512.85L180.61 511.88L183.13 510.91L185.62 509.93L188.09 508.96L190.53 507.99L192.96 507.01L195.36 506.04L197.74 505.07L200.10 504.09L202.45 503.12L204.77 502.15L207.08 501.18L209.38 500.20L211.66 499.23L213.93 498.26L216.18 497.28L218.42 496.31L220.65 495.34L222.87 494.36L225.08 493.39L227.27 492.42L229.46 491.44L231.64 490.47L233.81 489.50L235.97 488.52L238.12 487.55L240.26 486.58L242.40 485.61L244.53 484.63L246.65 483.66L248.77 482.69L250.88 481.71L252.98 480.74L255.08 479.77L257.17 478.79L259.26 477.82L261.34 476.85L263.41 475.87L265.49 474.90L267.56 473.93L269.62 472.95L271.68 471.98L273.73 471.01L275.79 470.04L277.83 469.06L279.88 468.09L281.92 467.12L283.96 466.14L285.99 465.17L288.02 464.20L290.05 463.22L292.08 462.25L294.10 461.28L296.12 460.30L298.14 459.33L300.15 458.36L302.16 457.38L304.17 456.41L306.18 455.44L308.19 454.47L310.19 453.49L312.19 452.52L314.19 451.55L316.19 450.57L318.19 449.60L320.18 448.63L322.17 447.65L324.16 446.68L326.15 445.71L328.14 444.73L330.12 443.76L332.11 442.79L334.09 441.81L336.07 440.84L338.05 439.87L340.02 438.90L342.00 437.92L343.97 436.95L345.95 435.98L347.92 435.00L349.89 434.03L351.86 433.06L353.82 432.08L355.79 431.11L357.76 430.14L359.72 429.16L361.68 428.19L363.64 427.22L365.60 426.24L367.56 425.27L369.52 424.30L371.47 423.33L373.43 422.35L375.38 421.38L377.33 420.41L379.28 419.43L381.23 418.46L383.18 417.49L385.13 416.51L387.07 415.54L389.02 414.57L390.96 413.59L392.91 412.62L394.85 411.65L396.79 410.67L398.73 409.70L400.66 408.73L402.60 407.76L404.54 406.78L406.47 405.81L408.40 404.84L410.33 403.86L412.26 402.89L414.19 401.92L416.12 400.94L418.05 399.97L419.97 399.00L421.90 398.02L423.82 397.05L425.74 396.08L427.67 395.10L429.59 394.13L431.50 393.16L433.42 392.19L435.34 391.21L437.25 390.24L439.17 389.27L441.08 388.29L442.99 387.32L444.90 386.35L446.81 385.37L448.71 384.40L450.62 383.43L452.53 382.45L454.43 381.48L456.33 380.51L458.23 379.53L460.13 378.56L462.03 377.59L463.93 376.62L465.82 375.64L467.72 374.67L469.61 373.70L471.50 372.72L473.39 371.75L475.28 370.78L477.17 369.80L479.06 368.83L480.94 367.86L482.83 366.88L484.71 365.91L486.59 364.94L488.47 363.96L490.35 362.99L492.23 362.02L494.10 361.05L495.98 360.07L497.85 359.10L499.72 358.13L501.59 357.15L503.46 356.18" fill="none" stroke="#231cac" stroke-width="1.15"/>
<path d="M-94.49 550.80L-12.21 549.83L20.48 548.86L41.52 547.89L57.20 546.91L69.79 545.94L80.36 544.97L89.52 543.99L97.62 543.02L104.92 542.05L111.57 541.07L117.70 540.10L123.40 539.13L128.73 538.15L133.76 537.18L138.52 536.21L143.04 535.23L147.37 534.26L151.51 533.29L155.49 532.32L159.33 531.34L163.03 530.37L166.63 529.40L170.11 528.42L173.50 527.45L176.80 526.48L180.02 525.50L183.17 524.53L186.25 523.56L189.26 522.58L192.22 521.61L195.12 520.64L197.97 519.66L200.77 518.69L203.53 517.72L206.25 516.75L208.93 515.77L211.58 514.80L214.19 513.83L216.76 512.85L219.31 511.88L221.83 510.91L224.33 509.93L226.79 508.96L229.24 507.99L231.66 507.01L234.06 506.04L236.44 505.07L238.81 504.09L241.15 503.12L243.48 502.15L245.79 501.18L248.08 500.20L250.36 499.23L252.63 498.26L254.89 497.28L257.13 496.31L259.36 495.34L261.57 494.36L263.78 493.39L265.98 492.42L268.17 491.44L270.34 490.47L272.51 489.50L274.67 488.52L276.82 487.55L278.97 486.58L281.10 485.61L283.23 484.63L285.36 483.66L287.47 482.69L289.58 481.71L291.68 480.74L293.78 479.77L295.87 478.79L297.96 477.82L300.04 476.85L302.12 475.87L304.19 474.90L306.26 473.93L308.32 472.95L310.38 471.98L312.44 471.01L314.49 470.04L316.54 469.06L318.58 468.09L320.62 467.12L322.66 466.14L324.70 465.17L326.73 464.20L328.75 463.22L330.78 462.25L332.80 461.28L334.82 460.30L336.84 459.33L338.86 458.36L340.87 457.38L342.88 456.41L344.89 455.44L346.89 454.47L348.90 453.49L350.90 452.52L352.90 451.55L354.90 450.57L356.89 449.60L358.88 448.63L360.88 447.65L362.87 446.68L364.86 445.71L366.84 444.73L368.83 443.76L370.81 442.79L372.79 441.81L374.77 440.84L376.75 439.87L378.73 438.90L380.70 437.92L382.68 436.95L384.65 435.98L386.62 435.00L388.59 434.03L390.56 433.06L392.53 432.08L394.50 431.11L396.46 430.14L398.42 429.16L400.39 428.19L402.35 427.22L404.31 426.24L406.26 425.27L408.22 424.30L410.18 423.33L412.13 422.35L414.09 421.38L416.04 420.41L417.99 419.43L419.94 418.46L421.89 417.49L423.83 416.51L425.78 415.54L427.72 414.57L429.67 413.59L431.61 412.62L433.55 411.65L435.49 410.67L437.43 409.70L439.37 408.73L441.31 407.76L443.24 406.78L445.17 405.81L447.11 404.84L449.04 403.86L450.97 402.89L452.90 401.92L454.83 400.94L456.75 399.97L458.68 399.00L460.60 398.02L462.53 397.05L464.45 396.08L466.37 395.10L468.29 394.13L470.21 393.16L472.13 392.19L474.04 391.21L475.96 390.24L477.87 389.27L479.78 388.29L481.69 387.32L483.60 386.35L485.51 385.37L487.42 384.40L489.33 383.43L491.23 382.45L493.13 381.48L495.04 380.51L496.94 379.53L498.84 378.56L500.74 377.59L502.63 376.62L504.53 375.64L506.42 374.67L508.32 373.70L510.21 372.72L512.10 371.75L513.99 370.78L515.88 369.80L517.76 368.83L519.65 367.86L521.53 366.88L523.42 365.91L525.30 364.94L527.18 363.96L529.06 362.99L530.93 362.02L532.81 361.05L534.68 360.07L536.56 359.10L538.43 358.13L540.30 357.15L542.17 356.18" fill="none" stroke="#2330d0" stroke-width="1.15"/>
<path d="M-71.85 550.80L10.43 549.83L43.12 548.86L64.16 547.89L79.84 546.91L92.43 545.94L103.00 544.97L112.16 543.99L120.26 543.02L127.56 542.05L134.21 541.07L140.34 540.10L146.04 539.13L151.38 538.15L156.40 537.18L161.16 536.21L165.69 535.23L170.01 534.26L174.15 533.29L178.13 532.32L181.97 531.34L185.68 530.37L189.27 529.40L192.75 528.42L196.14 527.45L199.44 526.48L202.66 525.50L205.81 524.53L208.89 523.56L211.90 522.58L214.86 521.61L217.76 520.64L220.61 519.66L223.41 518.69L226.17 517.72L228.89 516.75L231.57 515.77L234.22 514.80L236.83 513.83L239.40 512.85L241.95 511.88L244.47 510.91L246.97 509.93L249.43 508.96L251.88 507.99L254.30 507.01L256.70 506.04L259.08 505.07L261.45 504.09L263.79 503.12L266.12 502.15L268.43 501.18L270.72 500.20L273.01 499.23L275.27 498.26L277.53 497.28L279.77 496.31L282.00 495.34L284.22 494.36L286.42 493.39L288.62 492.42L290.81 491.44L292.98 490.47L295.15 489.50L297.31 488.52L299.46 487.55L301.61 486.58L303.74 485.61L305.87 484.63L308.00 483.66L310.11 482.69L312.22 481.71L314.32 480.74L316.42 479.77L318.51 478.79L320.60 477.82L322.68 476.85L324.76 475.87L326.83 474.90L328.90 473.93L330.96 472.95L333.02 471.98L335.08 471.01L337.13 470.04L339.18 469.06L341.22 468.09L343.26 467.12L345.30 466.14L347.34 465.17L349.37 464.20L351.40 463.22L353.42 462.25L355.44 461.28L357.46 460.30L359.48 459.33L361.50 458.36L363.51 457.38L365.52 456.41L367.53 455.44L369.53 454.47L371.54 453.49L373.54 452.52L375.54 451.55L377.54 450.57L379.53 449.60L381.53 448.63L383.52 447.65L385.51 446.68L387.50 445.71L389.48 444.73L391.47 443.76L393.45 442.79L395.43 441.81L397.41 440.84L399.39 439.87L401.37 438.90L403.35 437.92L405.32 436.95L407.29 435.98L409.26 435.00L411.23 434.03L413.20 433.06L415.17 432.08L417.14 431.11L419.10 430.14L421.06 429.16L423.03 428.19L424.99 427.22L426.95 426.24L428.91 425.27L430.86 424.30L432.82 423.33L434.77 422.35L436.73 421.38L438.68 420.41L440.63 419.43L442.58 418.46L444.53 417.49L446.47 416.51L448.42 415.54L450.37 414.57L452.31 413.59L454.25 412.62L456.19 411.65L458.13 410.67L460.07 409.70L462.01 408.73L463.95 407.76L465.88 406.78L467.82 405.81L469.75 404.84L471.68 403.86L473.61 402.89L475.54 401.92L477.47 400.94L479.39 399.97L481.32 399.00L483.25 398.02L485.17 397.05L487.09 396.08L489.01 395.10L490.93 394.13L492.85 393.16L494.77 392.19L496.68 391.21L498.60 390.24L500.51 389.27L502.42 388.29L504.33 387.32L506.24 386.35L508.15 385.37L510.06 384.40L511.97 383.43L513.87 382.45L515.77 381.48L517.68 380.51L519.58 379.53L521.48 378.56L523.38 377.59L525.27 376.62L527.17 375.64L529.06 374.67L530.96 373.70L532.85 372.72L534.74 371.75L536.63 370.78L538.52 369.80L540.40 368.83L542.29 367.86L544.17 366.88L546.06 365.91L547.94 364.94L549.82 363.96L551.70 362.99L553.57 362.02L555.45 361.05L557.32 360.07L559.20 359.10L561.07 358.13L562.94 357.15L564.81 356.18" fill="none" stroke="#2a47d4" stroke-width="1.15"/>
<path d="M-55.79 550.80L26.49 549.83L59.19 548.86L80.23 547.89L95.91 546.91L108.49 545.94L119.07 544.97L128.22 543.99L136.33 543.02L143.62 542.05L150.27 541.07L156.41 540.10L162.10 539.13L167.44 538.15L172.47 537.18L177.22 536.21L181.75 535.23L186.07 534.26L190.21 533.29L194.19 532.32L198.03 531.34L201.74 530.37L205.33 529.40L208.82 528.42L212.21 527.45L215.51 526.48L218.73 525.50L221.88 524.53L224.95 523.56L227.97 522.58L230.92 521.61L233.82 520.64L236.68 519.66L239.48 518.69L242.24 517.72L244.96 516.75L247.64 515.77L250.28 514.80L252.89 513.83L255.47 512.85L258.02 511.88L260.54 510.91L263.03 509.93L265.50 508.96L267.94 507.99L270.37 507.01L272.77 506.04L275.15 505.07L277.51 504.09L279.85 503.12L282.18 502.15L284.49 501.18L286.79 500.20L289.07 499.23L291.34 498.26L293.59 497.28L295.83 496.31L298.06 495.34L300.28 494.36L302.49 493.39L304.68 492.42L306.87 491.44L309.05 490.47L311.22 489.50L313.38 488.52L315.53 487.55L317.67 486.58L319.81 485.61L321.94 484.63L324.06 483.66L326.18 482.69L328.29 481.71L330.39 480.74L332.49 479.77L334.58 478.79L336.67 477.82L338.75 476.85L340.82 475.87L342.90 474.90L344.96 473.93L347.03 472.95L349.09 471.98L351.14 471.01L353.19 470.04L355.24 469.06L357.29 468.09L359.33 467.12L361.37 466.14L363.40 465.17L365.43 464.20L367.46 463.22L369.49 462.25L371.51 461.28L373.53 460.30L375.55 459.33L377.56 458.36L379.57 457.38L381.58 456.41L383.59 455.44L385.60 454.47L387.60 453.49L389.60 452.52L391.60 451.55L393.60 450.57L395.60 449.60L397.59 448.63L399.58 447.65L401.57 446.68L403.56 445.71L405.55 444.73L407.53 443.76L409.52 442.79L411.50 441.81L413.48 440.84L415.46 439.87L417.43 438.90L419.41 437.92L421.38 436.95L423.36 435.98L425.33 435.00L427.30 434.03L429.27 433.06L431.23 432.08L433.20 431.11L435.17 430.14L437.13 429.16L439.09 428.19L441.05 427.22L443.01 426.24L444.97 425.27L446.93 424.30L448.88 423.33L450.84 422.35L452.79 421.38L454.74 420.41L456.69 419.43L458.64 418.46L460.59 417.49L462.54 416.51L464.48 415.54L466.43 414.57L468.37 413.59L470.32 412.62L472.26 411.65L474.20 410.67L476.14 409.70L478.07 408.73L480.01 407.76L481.95 406.78L483.88 405.81L485.81 404.84L487.74 403.86L489.67 402.89L491.60 401.92L493.53 400.94L495.46 399.97L497.38 399.00L499.31 398.02L501.23 397.05L503.15 396.08L505.08 395.10L507.00 394.13L508.91 393.16L510.83 392.19L512.75 391.21L514.66 390.24L516.58 389.27L518.49 388.29L520.40 387.32L522.31 386.35L524.22 385.37L526.12 384.40L528.03 383.43L529.94 382.45L531.84 381.48L533.74 380.51L535.64 379.53L537.54 378.56L539.44 377.59L541.34 376.62L543.23 375.64L545.13 374.67L547.02 373.70L548.91 372.72L550.80 371.75L552.69 370.78L554.58 369.80L556.47 368.83L558.35 367.86L560.24 366.88L562.12 365.91L564.00 364.94L565.88 363.96L567.76 362.99L569.64 362.02L571.51 361.05L573.39 360.07L575.26 359.10L577.13 358.13L579.00 357.15L580.87 356.18" fill="none" stroke="#305ed7" stroke-width="1.15"/>
<path d="M-43.33 550.80L38.95 549.83L71.65 548.86L92.69 547.89L108.37 546.91L120.95 545.94L131.53 544.97L140.68 543.99L148.79 543.02L156.08 542.05L162.73 541.07L168.87 540.10L174.56 539.13L179.90 538.15L184.93 537.18L189.68 536.21L194.21 535.23L198.53 534.26L202.67 533.29L206.65 532.32L210.49 531.34L214.20 530.37L217.79 529.40L221.28 528.42L224.67 527.45L227.97 526.48L231.19 525.50L234.34 524.53L237.41 523.56L240.43 522.58L243.38 521.61L246.28 520.64L249.14 519.66L251.94 518.69L254.70 517.72L257.42 516.75L260.10 515.77L262.74 514.80L265.35 513.83L267.93 512.85L270.48 511.88L273.00 510.91L275.49 509.93L277.96 508.96L280.40 507.99L282.83 507.01L285.23 506.04L287.61 505.07L289.97 504.09L292.32 503.12L294.64 502.15L296.95 501.18L299.25 500.20L301.53 499.23L303.80 498.26L306.05 497.28L308.29 496.31L310.52 495.34L312.74 494.36L314.95 493.39L317.14 492.42L319.33 491.44L321.51 490.47L323.68 489.50L325.84 488.52L327.99 487.55L330.13 486.58L332.27 485.61L334.40 484.63L336.52 483.66L338.64 482.69L340.75 481.71L342.85 480.74L344.95 479.77L347.04 478.79L349.13 477.82L351.21 476.85L353.29 475.87L355.36 474.90L357.43 473.93L359.49 472.95L361.55 471.98L363.60 471.01L365.66 470.04L367.70 469.06L369.75 468.09L371.79 467.12L373.83 466.14L375.86 465.17L377.89 464.20L379.92 463.22L381.95 462.25L383.97 461.28L385.99 460.30L388.01 459.33L390.02 458.36L392.03 457.38L394.04 456.41L396.05 455.44L398.06 454.47L400.06 453.49L402.06 452.52L404.06 451.55L406.06 450.57L408.06 449.60L410.05 448.63L412.04 447.65L414.03 446.68L416.02 445.71L418.01 444.73L419.99 443.76L421.98 442.79L423.96 441.81L425.94 440.84L427.92 439.87L429.89 438.90L431.87 437.92L433.84 436.95L435.82 435.98L437.79 435.00L439.76 434.03L441.73 433.06L443.69 432.08L445.66 431.11L447.63 430.14L449.59 429.16L451.55 428.19L453.51 427.22L455.47 426.24L457.43 425.27L459.39 424.30L461.34 423.33L463.30 422.35L465.25 421.38L467.20 420.41L469.15 419.43L471.10 418.46L473.05 417.49L475.00 416.51L476.94 415.54L478.89 414.57L480.83 413.59L482.78 412.62L484.72 411.65L486.66 410.67L488.60 409.70L490.53 408.73L492.47 407.76L494.41 406.78L496.34 405.81L498.27 404.84L500.20 403.86L502.13 402.89L504.06 401.92L505.99 400.94L507.92 399.97L509.84 399.00L511.77 398.02L513.69 397.05L515.61 396.08L517.54 395.10L519.46 394.13L521.37 393.16L523.29 392.19L525.21 391.21L527.12 390.24L529.04 389.27L530.95 388.29L532.86 387.32L534.77 386.35L536.68 385.37L538.58 384.40L540.49 383.43L542.40 382.45L544.30 381.48L546.20 380.51L548.10 379.53L550.00 378.56L551.90 377.59L553.80 376.62L555.69 375.64L557.59 374.67L559.48 373.70L561.37 372.72L563.26 371.75L565.15 370.78L567.04 369.80L568.93 368.83L570.81 367.86L572.70 366.88L574.58 365.91L576.46 364.94L578.34 363.96L580.22 362.99L582.10 362.02L583.97 361.05L585.85 360.07L587.72 359.10L589.59 358.13L591.46 357.15L593.33 356.18" fill="none" stroke="#3774db" stroke-width="1.15"/>
<path d="M-33.14 550.80L49.13 549.83L81.83 548.86L102.87 547.89L118.55 546.91L131.14 545.94L141.71 544.97L150.86 543.99L158.97 543.02L166.26 542.05L172.92 541.07L179.05 540.10L184.75 539.13L190.08 538.15L195.11 537.18L199.86 536.21L204.39 535.23L208.71 534.26L212.85 533.29L216.83 532.32L220.67 531.34L224.38 530.37L227.97 529.40L231.46 528.42L234.85 527.45L238.15 526.48L241.37 525.50L244.52 524.53L247.59 523.56L250.61 522.58L253.56 521.61L256.47 520.64L259.32 519.66L262.12 518.69L264.88 517.72L267.60 516.75L270.28 515.77L272.92 514.80L275.53 513.83L278.11 512.85L280.66 511.88L283.18 510.91L285.67 509.93L288.14 508.96L290.58 507.99L293.01 507.01L295.41 506.04L297.79 505.07L300.15 504.09L302.50 503.12L304.82 502.15L307.13 501.18L309.43 500.20L311.71 499.23L313.98 498.26L316.23 497.28L318.47 496.31L320.70 495.34L322.92 494.36L325.13 493.39L327.32 492.42L329.51 491.44L331.69 490.47L333.86 489.50L336.02 488.52L338.17 487.55L340.31 486.58L342.45 485.61L344.58 484.63L346.70 483.66L348.82 482.69L350.93 481.71L353.03 480.74L355.13 479.77L357.22 478.79L359.31 477.82L361.39 476.85L363.47 475.87L365.54 474.90L367.61 473.93L369.67 472.95L371.73 471.98L373.78 471.01L375.84 470.04L377.88 469.06L379.93 468.09L381.97 467.12L384.01 466.14L386.04 465.17L388.07 464.20L390.10 463.22L392.13 462.25L394.15 461.28L396.17 460.30L398.19 459.33L400.20 458.36L402.21 457.38L404.22 456.41L406.23 455.44L408.24 454.47L410.24 453.49L412.24 452.52L414.24 451.55L416.24 450.57L418.24 449.60L420.23 448.63L422.22 447.65L424.21 446.68L426.20 445.71L428.19 444.73L430.17 443.76L432.16 442.79L434.14 441.81L436.12 440.84L438.10 439.87L440.07 438.90L442.05 437.92L444.03 436.95L446.00 435.98L447.97 435.00L449.94 434.03L451.91 433.06L453.88 432.08L455.84 431.11L457.81 430.14L459.77 429.16L461.73 428.19L463.69 427.22L465.65 426.24L467.61 425.27L469.57 424.30L471.52 423.33L473.48 422.35L475.43 421.38L477.38 420.41L479.33 419.43L481.28 418.46L483.23 417.49L485.18 416.51L487.13 415.54L489.07 414.57L491.01 413.59L492.96 412.62L494.90 411.65L496.84 410.67L498.78 409.70L500.71 408.73L502.65 407.76L504.59 406.78L506.52 405.81L508.45 404.84L510.38 403.86L512.32 402.89L514.24 401.92L516.17 400.94L518.10 399.97L520.03 399.00L521.95 398.02L523.87 397.05L525.80 396.08L527.72 395.10L529.64 394.13L531.55 393.16L533.47 392.19L535.39 391.21L537.30 390.24L539.22 389.27L541.13 388.29L543.04 387.32L544.95 386.35L546.86 385.37L548.77 384.40L550.67 383.43L552.58 382.45L554.48 381.48L556.38 380.51L558.28 379.53L560.18 378.56L562.08 377.59L563.98 376.62L565.87 375.64L567.77 374.67L569.66 373.70L571.55 372.72L573.44 371.75L575.33 370.78L577.22 369.80L579.11 368.83L580.99 367.86L582.88 366.88L584.76 365.91L586.64 364.94L588.52 363.96L590.40 362.99L592.28 362.02L594.15 361.05L596.03 360.07L597.90 359.10L599.77 358.13L601.65 357.15L603.51 356.18" fill="none" stroke="#3e8bde" stroke-width="1.15"/>
<path d="M-24.54 550.80L57.74 549.83L90.44 548.86L111.48 547.89L127.16 546.91L139.74 545.94L150.31 544.97L159.47 543.99L167.57 543.02L174.87 542.05L181.52 541.07L187.65 540.10L193.35 539.13L198.69 538.15L203.71 537.18L208.47 536.21L213.00 535.23L217.32 534.26L221.46 533.29L225.44 532.32L229.28 531.34L232.99 530.37L236.58 529.40L240.07 528.42L243.46 527.45L246.76 526.48L249.98 525.50L253.12 524.53L256.20 523.56L259.22 522.58L262.17 521.61L265.07 520.64L267.92 519.66L270.73 518.69L273.49 517.72L276.21 516.75L278.89 515.77L281.53 514.80L284.14 513.83L286.72 512.85L289.27 511.88L291.79 510.91L294.28 509.93L296.75 508.96L299.19 507.99L301.61 507.01L304.02 506.04L306.40 505.07L308.76 504.09L311.10 503.12L313.43 502.15L315.74 501.18L318.04 500.20L320.32 499.23L322.59 498.26L324.84 497.28L327.08 496.31L329.31 495.34L331.53 494.36L333.74 493.39L335.93 492.42L338.12 491.44L340.30 490.47L342.47 489.50L344.62 488.52L346.78 487.55L348.92 486.58L351.06 485.61L353.19 484.63L355.31 483.66L357.42 482.69L359.53 481.71L361.64 480.74L363.74 479.77L365.83 478.79L367.91 477.82L370.00 476.85L372.07 475.87L374.15 474.90L376.21 473.93L378.28 472.95L380.34 471.98L382.39 471.01L384.44 470.04L386.49 469.06L388.54 468.09L390.58 467.12L392.61 466.14L394.65 465.17L396.68 464.20L398.71 463.22L400.73 462.25L402.76 461.28L404.78 460.30L406.79 459.33L408.81 458.36L410.82 457.38L412.83 456.41L414.84 455.44L416.85 454.47L418.85 453.49L420.85 452.52L422.85 451.55L424.85 450.57L426.84 449.60L428.84 448.63L430.83 447.65L432.82 446.68L434.81 445.71L436.80 444.73L438.78 443.76L440.76 442.79L442.75 441.81L444.73 440.84L446.71 439.87L448.68 438.90L450.66 437.92L452.63 436.95L454.61 435.98L456.58 435.00L458.55 434.03L460.52 433.06L462.48 432.08L464.45 431.11L466.41 430.14L468.38 429.16L470.34 428.19L472.30 427.22L474.26 426.24L476.22 425.27L478.18 424.30L480.13 423.33L482.09 422.35L484.04 421.38L485.99 420.41L487.94 419.43L489.89 418.46L491.84 417.49L493.79 416.51L495.73 415.54L497.68 414.57L499.62 413.59L501.56 412.62L503.51 411.65L505.45 410.67L507.38 409.70L509.32 408.73L511.26 407.76L513.19 406.78L515.13 405.81L517.06 404.84L518.99 403.86L520.92 402.89L522.85 401.92L524.78 400.94L526.71 399.97L528.63 399.00L530.56 398.02L532.48 397.05L534.40 396.08L536.32 395.10L538.24 394.13L540.16 393.16L542.08 392.19L544.00 391.21L545.91 390.24L547.82 389.27L549.74 388.29L551.65 387.32L553.56 386.35L555.47 385.37L557.37 384.40L559.28 383.43L561.18 382.45L563.09 381.48L564.99 380.51L566.89 379.53L568.79 378.56L570.69 377.59L572.59 376.62L574.48 375.64L576.38 374.67L578.27 373.70L580.16 372.72L582.05 371.75L583.94 370.78L585.83 369.80L587.72 368.83L589.60 367.86L591.49 366.88L593.37 365.91L595.25 364.94L597.13 363.96L599.01 362.99L600.89 362.02L602.76 361.05L604.64 360.07L606.51 359.10L608.38 358.13L610.25 357.15L612.12 356.18" fill="none" stroke="#44a2e2" stroke-width="1.15"/>
<path d="M-17.08 550.80L65.20 549.83L97.89 548.86L118.93 547.89L134.61 546.91L147.20 545.94L157.77 544.97L166.93 543.99L175.03 543.02L182.33 542.05L188.98 541.07L195.11 540.10L200.81 539.13L206.14 538.15L211.17 537.18L215.93 536.21L220.45 535.23L224.78 534.26L228.92 533.29L232.90 532.32L236.74 531.34L240.44 530.37L244.04 529.40L247.52 528.42L250.91 527.45L254.21 526.48L257.43 525.50L260.58 524.53L263.66 523.56L266.67 522.58L269.63 521.61L272.53 520.64L275.38 519.66L278.18 518.69L280.94 517.72L283.66 516.75L286.34 515.77L288.99 514.80L291.60 513.83L294.17 512.85L296.72 511.88L299.24 510.91L301.74 509.93L304.20 508.96L306.65 507.99L309.07 507.01L311.47 506.04L313.85 505.07L316.22 504.09L318.56 503.12L320.89 502.15L323.20 501.18L325.49 500.20L327.77 499.23L330.04 498.26L332.30 497.28L334.54 496.31L336.77 495.34L338.98 494.36L341.19 493.39L343.39 492.42L345.58 491.44L347.75 490.47L349.92 489.50L352.08 488.52L354.23 487.55L356.38 486.58L358.51 485.61L360.64 484.63L362.76 483.66L364.88 482.69L366.99 481.71L369.09 480.74L371.19 479.77L373.28 478.79L375.37 477.82L377.45 476.85L379.53 475.87L381.60 474.90L383.67 473.93L385.73 472.95L387.79 471.98L389.85 471.01L391.90 470.04L393.95 469.06L395.99 468.09L398.03 467.12L400.07 466.14L402.11 465.17L404.14 464.20L406.16 463.22L408.19 462.25L410.21 461.28L412.23 460.30L414.25 459.33L416.27 458.36L418.28 457.38L420.29 456.41L422.30 455.44L424.30 454.47L426.31 453.49L428.31 452.52L430.31 451.55L432.31 450.57L434.30 449.60L436.29 448.63L438.29 447.65L440.28 446.68L442.27 445.71L444.25 444.73L446.24 443.76L448.22 442.79L450.20 441.81L452.18 440.84L454.16 439.87L456.14 438.90L458.11 437.92L460.09 436.95L462.06 435.98L464.03 435.00L466.00 434.03L467.97 433.06L469.94 432.08L471.91 431.11L473.87 430.14L475.83 429.16L477.80 428.19L479.76 427.22L481.72 426.24L483.67 425.27L485.63 424.30L487.59 423.33L489.54 422.35L491.50 421.38L493.45 420.41L495.40 419.43L497.35 418.46L499.30 417.49L501.24 416.51L503.19 415.54L505.13 414.57L507.08 413.59L509.02 412.62L510.96 411.65L512.90 410.67L514.84 409.70L516.78 408.73L518.71 407.76L520.65 406.78L522.58 405.81L524.52 404.84L526.45 403.86L528.38 402.89L530.31 401.92L532.24 400.94L534.16 399.97L536.09 399.00L538.01 398.02L539.94 397.05L541.86 396.08L543.78 395.10L545.70 394.13L547.62 393.16L549.54 392.19L551.45 391.21L553.37 390.24L555.28 389.27L557.19 388.29L559.10 387.32L561.01 386.35L562.92 385.37L564.83 384.40L566.74 383.43L568.64 382.45L570.54 381.48L572.45 380.51L574.35 379.53L576.25 378.56L578.15 377.59L580.04 376.62L581.94 375.64L583.83 374.67L585.73 373.70L587.62 372.72L589.51 371.75L591.40 370.78L593.29 369.80L595.17 368.83L597.06 367.86L598.94 366.88L600.83 365.91L602.71 364.94L604.59 363.96L606.47 362.99L608.34 362.02L610.22 361.05L612.09 360.07L613.97 359.10L615.84 358.13L617.71 357.15L619.58 356.18" fill="none" stroke="#4bb8e6" stroke-width="1.15"/>
<path d="M-10.50 550.80L71.77 549.83L104.47 548.86L125.51 547.89L141.19 546.91L153.78 545.94L164.35 544.97L173.50 543.99L181.61 543.02L188.90 542.05L195.56 541.07L201.69 540.10L207.39 539.13L212.72 538.15L217.75 537.18L222.51 536.21L227.03 535.23L231.35 534.26L235.49 533.29L239.48 532.32L243.31 531.34L247.02 530.37L250.61 529.40L254.10 528.42L257.49 527.45L260.79 526.48L264.01 525.50L267.16 524.53L270.23 523.56L273.25 522.58L276.20 521.61L279.11 520.64L281.96 519.66L284.76 518.69L287.52 517.72L290.24 516.75L292.92 515.77L295.56 514.80L298.17 513.83L300.75 512.85L303.30 511.88L305.82 510.91L308.31 509.93L310.78 508.96L313.23 507.99L315.65 507.01L318.05 506.04L320.43 505.07L322.79 504.09L325.14 503.12L327.46 502.15L329.77 501.18L332.07 500.20L334.35 499.23L336.62 498.26L338.87 497.28L341.11 496.31L343.34 495.34L345.56 494.36L347.77 493.39L349.97 492.42L352.15 491.44L354.33 490.47L356.50 489.50L358.66 488.52L360.81 487.55L362.95 486.58L365.09 485.61L367.22 484.63L369.34 483.66L371.46 482.69L373.57 481.71L375.67 480.74L377.77 479.77L379.86 478.79L381.95 477.82L384.03 476.85L386.11 475.87L388.18 474.90L390.25 473.93L392.31 472.95L394.37 471.98L396.43 471.01L398.48 470.04L400.52 469.06L402.57 468.09L404.61 467.12L406.65 466.14L408.68 465.17L410.71 464.20L412.74 463.22L414.77 462.25L416.79 461.28L418.81 460.30L420.83 459.33L422.84 458.36L424.86 457.38L426.87 456.41L428.87 455.44L430.88 454.47L432.88 453.49L434.88 452.52L436.88 451.55L438.88 450.57L440.88 449.60L442.87 448.63L444.86 447.65L446.85 446.68L448.84 445.71L450.83 444.73L452.81 443.76L454.80 442.79L456.78 441.81L458.76 440.84L460.74 439.87L462.72 438.90L464.69 437.92L466.67 436.95L468.64 435.98L470.61 435.00L472.58 434.03L474.55 433.06L476.52 432.08L478.48 431.11L480.45 430.14L482.41 429.16L484.37 428.19L486.33 427.22L488.29 426.24L490.25 425.27L492.21 424.30L494.16 423.33L496.12 422.35L498.07 421.38L500.02 420.41L501.98 419.43L503.92 418.46L505.87 417.49L507.82 416.51L509.77 415.54L511.71 414.57L513.66 413.59L515.60 412.62L517.54 411.65L519.48 410.67L521.42 409.70L523.36 408.73L525.29 407.76L527.23 406.78L529.16 405.81L531.09 404.84L533.03 403.86L534.96 402.89L536.89 401.92L538.81 400.94L540.74 399.97L542.67 399.00L544.59 398.02L546.51 397.05L548.44 396.08L550.36 395.10L552.28 394.13L554.20 393.16L556.11 392.19L558.03 391.21L559.94 390.24L561.86 389.27L563.77 388.29L565.68 387.32L567.59 386.35L569.50 385.37L571.41 384.40L573.31 383.43L575.22 382.45L577.12 381.48L579.02 380.51L580.92 379.53L582.82 378.56L584.72 377.59L586.62 376.62L588.52 375.64L590.41 374.67L592.30 373.70L594.19 372.72L596.09 371.75L597.97 370.78L599.86 369.80L601.75 368.83L603.64 367.86L605.52 366.88L607.40 365.91L609.28 364.94L611.16 363.96L613.04 362.99L614.92 362.02L616.80 361.05L618.67 360.07L620.54 359.10L622.42 358.13L624.29 357.15L626.16 356.18" fill="none" stroke="#51cfe9" stroke-width="1.15"/>
<path d="M-4.62 550.80L77.66 549.83L110.35 548.86L131.39 547.89L147.07 546.91L159.66 545.94L170.23 544.97L179.39 543.99L187.49 543.02L194.79 542.05L201.44 541.07L207.57 540.10L213.27 539.13L218.60 538.15L223.63 537.18L228.39 536.21L232.91 535.23L237.24 534.26L241.38 533.29L245.36 532.32L249.20 531.34L252.90 530.37L256.50 529.40L259.98 528.42L263.37 527.45L266.67 526.48L269.89 525.50L273.04 524.53L276.12 523.56L279.13 522.58L282.09 521.61L284.99 520.64L287.84 519.66L290.64 518.69L293.40 517.72L296.12 516.75L298.80 515.77L301.45 514.80L304.06 513.83L306.63 512.85L309.18 511.88L311.70 510.91L314.20 509.93L316.66 508.96L319.11 507.99L321.53 507.01L323.93 506.04L326.31 505.07L328.68 504.09L331.02 503.12L333.35 502.15L335.66 501.18L337.95 500.20L340.23 499.23L342.50 498.26L344.76 497.28L347.00 496.31L349.23 495.34L351.44 494.36L353.65 493.39L355.85 492.42L358.04 491.44L360.21 490.47L362.38 489.50L364.54 488.52L366.69 487.55L368.84 486.58L370.97 485.61L373.10 484.63L375.23 483.66L377.34 482.69L379.45 481.71L381.55 480.74L383.65 479.77L385.74 478.79L387.83 477.82L389.91 476.85L391.99 475.87L394.06 474.90L396.13 473.93L398.19 472.95L400.25 471.98L402.31 471.01L404.36 470.04L406.41 469.06L408.45 468.09L410.49 467.12L412.53 466.14L414.57 465.17L416.60 464.20L418.63 463.22L420.65 462.25L422.67 461.28L424.69 460.30L426.71 459.33L428.73 458.36L430.74 457.38L432.75 456.41L434.76 455.44L436.76 454.47L438.77 453.49L440.77 452.52L442.77 451.55L444.77 450.57L446.76 449.60L448.75 448.63L450.75 447.65L452.74 446.68L454.73 445.71L456.71 444.73L458.70 443.76L460.68 442.79L462.66 441.81L464.64 440.84L466.62 439.87L468.60 438.90L470.57 437.92L472.55 436.95L474.52 435.98L476.49 435.00L478.46 434.03L480.43 433.06L482.40 432.08L484.37 431.11L486.33 430.14L488.29 429.16L490.26 428.19L492.22 427.22L494.18 426.24L496.13 425.27L498.09 424.30L500.05 423.33L502.00 422.35L503.96 421.38L505.91 420.41L507.86 419.43L509.81 418.46L511.76 417.49L513.70 416.51L515.65 415.54L517.59 414.57L519.54 413.59L521.48 412.62L523.42 411.65L525.36 410.67L527.30 409.70L529.24 408.73L531.18 407.76L533.11 406.78L535.04 405.81L536.98 404.84L538.91 403.86L540.84 402.89L542.77 401.92L544.70 400.94L546.62 399.97L548.55 399.00L550.47 398.02L552.40 397.05L554.32 396.08L556.24 395.10L558.16 394.13L560.08 393.16L562.00 392.19L563.91 391.21L565.83 390.24L567.74 389.27L569.65 388.29L571.56 387.32L573.47 386.35L575.38 385.37L577.29 384.40L579.20 383.43L581.10 382.45L583.00 381.48L584.91 380.51L586.81 379.53L588.71 378.56L590.61 377.59L592.50 376.62L594.40 375.64L596.29 374.67L598.19 373.70L600.08 372.72L601.97 371.75L603.86 370.78L605.75 369.80L607.63 368.83L609.52 367.86L611.40 366.88L613.29 365.91L615.17 364.94L617.05 363.96L618.93 362.99L620.80 362.02L622.68 361.05L624.55 360.07L626.43 359.10L628.30 358.13L630.17 357.15L632.04 356.18" fill="none" stroke="#58e6ed" stroke-width="1.15"/>
<path d="M316.32 546.50V551.10M316.32 537.85V542.45M316.32 532.20V533.80M316.32 511.90V516.50M316.32 503.25V507.85M316.32 494.60V499.20M316.32 485.95V490.55M316.32 477.30V481.90M316.32 468.65V473.25M316.32 460.00V464.60M316.32 451.35V455.95M316.32 442.70V447.30M316.32 434.05V438.65M316.32 425.40V430.00M316.32 416.75V421.35M316.32 408.10V412.70M316.32 399.45V404.05M316.32 390.80V395.40M316.32 382.15V386.75M316.32 373.90V378.10" stroke="#231cac" stroke-width="1.05" stroke-opacity="0.85" fill="none"/>
<path d="M355.03 546.50V551.10M355.03 537.85V542.45M355.03 532.05V533.80M355.03 511.90V516.50M355.03 503.25V507.85M355.03 494.60V499.20M355.03 485.95V490.55M355.03 477.30V481.90M355.03 468.65V473.25M355.03 460.00V464.60M355.03 451.35V455.95M355.03 442.70V447.30M355.03 434.05V438.65M355.03 425.40V430.00M355.03 416.75V421.35M355.03 408.10V412.70M355.03 399.45V404.05M355.03 390.80V395.40M355.03 382.15V386.75M355.03 373.90V378.10" stroke="#2330d0" stroke-width="1.05" stroke-opacity="0.85" fill="none"/>
<path d="M377.67 546.50V551.10M377.67 537.85V542.45M377.67 529.20V533.80M377.67 511.90V513.15M377.67 503.25V507.85M377.67 494.60V499.20M377.67 485.95V490.55M377.67 477.30V481.90M377.67 468.65V473.25M377.67 460.00V464.60M377.67 451.35V455.95M377.67 442.70V447.30M377.67 434.05V438.65M377.67 425.40V430.00M377.67 416.75V421.35M377.67 408.10V412.70M377.67 399.45V404.05M377.67 390.80V395.40M377.67 382.15V386.75M377.67 373.90V378.10" stroke="#2a47d4" stroke-width="1.05" stroke-opacity="0.85" fill="none"/>
<path d="M393.73 546.50V551.10M393.73 537.85V542.45M393.73 529.20V533.80M393.73 503.25V507.85M393.73 494.60V499.20M393.73 485.95V490.55M393.73 477.30V481.90M393.73 468.65V473.25M393.73 460.00V464.60M393.73 451.35V455.95M393.73 442.70V447.30M393.73 434.05V438.65M393.73 425.40V430.00M393.73 416.75V421.35M393.73 408.10V412.70M393.73 399.45V404.05M393.73 390.80V395.40M393.73 382.15V386.75M393.73 373.90V378.10" stroke="#305ed7" stroke-width="1.05" stroke-opacity="0.85" fill="none"/>
<path d="M406.19 546.50V551.10M406.19 537.85V542.45M406.19 529.20V533.80M406.19 523.75V525.15M406.19 503.25V507.85M406.19 494.60V499.20M406.19 485.95V490.55M406.19 477.30V481.90M406.19 468.65V473.25M406.19 460.00V464.60M406.19 451.35V455.95M406.19 442.70V447.30M406.19 434.05V438.65M406.19 425.40V430.00M406.19 416.75V421.35M406.19 408.10V412.70M406.19 399.45V404.05M406.19 390.80V395.40M406.19 382.15V386.75M406.19 373.90V378.10" stroke="#3774db" stroke-width="1.05" stroke-opacity="0.85" fill="none"/>
<path d="M416.37 546.50V551.10M416.37 537.85V542.45M416.37 529.20V533.80M416.37 522.55V525.15M416.37 503.25V507.05M416.37 494.60V499.20M416.37 485.95V490.55M416.37 477.30V481.90M416.37 468.65V473.25M416.37 460.00V464.60M416.37 451.35V455.95M416.37 442.70V447.30M416.37 434.05V438.65M416.37 425.40V430.00M416.37 416.75V421.35M416.37 408.10V412.70M416.37 399.45V404.05M416.37 390.80V395.40M416.37 382.15V386.75M416.37 373.90V378.10" stroke="#3e8bde" stroke-width="1.05" stroke-opacity="0.85" fill="none"/>
<path d="M424.98 546.50V551.10M424.98 537.85V542.45M424.98 529.20V533.80M424.98 520.55V525.15M424.98 503.25V503.85M424.98 494.60V499.20M424.98 485.95V490.55M424.98 477.30V481.90M424.98 468.65V473.25M424.98 460.00V464.60M424.98 451.35V455.95M424.98 442.70V447.30M424.98 434.05V438.65M424.98 425.40V430.00M424.98 416.75V421.35M424.98 408.10V412.70M424.98 399.45V404.05M424.98 390.80V395.40M424.98 382.15V386.75M424.98 373.90V378.10" stroke="#44a2e2" stroke-width="1.05" stroke-opacity="0.85" fill="none"/>
<path d="M432.44 546.50V551.10M432.44 537.85V542.45M432.44 529.20V533.80M432.44 520.55V525.15M432.44 516.05V516.50M432.44 494.60V499.20M432.44 485.95V490.55M432.44 477.30V481.90M432.44 468.65V473.25M432.44 460.00V464.60M432.44 451.35V455.95M432.44 442.70V447.30M432.44 434.05V438.65M432.44 425.40V430.00M432.44 416.75V421.35M432.44 408.10V412.70M432.44 399.45V404.05M432.44 390.80V395.40M432.44 382.15V386.75M432.44 373.90V378.10" stroke="#4bb8e6" stroke-width="1.05" stroke-opacity="0.85" fill="none"/>
<path d="M439.01 546.50V551.10M439.01 537.85V542.45M439.01 529.20V533.80M439.01 520.55V525.15M439.01 512.75V516.50M439.01 494.60V497.25M439.01 485.95V490.55M439.01 477.30V481.90M439.01 468.65V473.25M439.01 460.00V464.60M439.01 451.35V455.95M439.01 442.70V447.30M439.01 434.05V438.65M439.01 425.40V430.00M439.01 416.75V421.35M439.01 408.10V412.70M439.01 399.45V404.05M439.01 390.80V395.40M439.01 382.15V386.75M439.01 373.90V378.10" stroke="#51cfe9" stroke-width="1.05" stroke-opacity="0.85" fill="none"/>
<path d="M444.90 546.50V551.10M444.90 537.85V542.45M444.90 529.20V533.80M444.90 520.55V525.15M444.90 511.90V516.50M444.90 485.95V490.55M444.90 477.30V481.90M444.90 468.65V473.25M444.90 460.00V464.60M444.90 451.35V455.95M444.90 442.70V447.30M444.90 434.05V438.65M444.90 425.40V430.00M444.90 416.75V421.35M444.90 408.10V412.70M444.90 399.45V404.05M444.90 390.80V395.40M444.90 382.15V386.75M444.90 373.90V378.10" stroke="#58e6ed" stroke-width="1.05" stroke-opacity="0.85" fill="none"/>
</g>
<text class="cl" transform="translate(316.32 526.50) rotate(-90)" text-anchor="middle" y="2.0">5%</text>
<text class="cl" transform="translate(355.03 524.30) rotate(-90)" text-anchor="middle" y="2.0">10%</text>
<text class="cl" transform="translate(377.67 520.90) rotate(-90)" text-anchor="middle" y="2.0">15%</text>
<text class="cl" transform="translate(393.73 518.70) rotate(-90)" text-anchor="middle" y="2.0">20%</text>
<text class="cl" transform="translate(406.19 516.00) rotate(-90)" text-anchor="middle" y="2.0">25%</text>
<text class="cl" transform="translate(416.37 514.80) rotate(-90)" text-anchor="middle" y="2.0">30%</text>
<text class="cl" transform="translate(424.98 511.60) rotate(-90)" text-anchor="middle" y="2.0">35%</text>
<text class="cl" transform="translate(432.44 508.30) rotate(-90)" text-anchor="middle" y="2.0">40%</text>
<text class="cl" transform="translate(439.01 505.00) rotate(-90)" text-anchor="middle" y="2.0">45%</text>
<text class="cl" transform="translate(444.90 501.10) rotate(-90)" text-anchor="middle" y="2.0">50%</text>
<path d="M191.8 492.03H448.95" stroke="#000" stroke-width="1.7" stroke-dasharray="8.3 1.1 1.8 1.1" fill="none"/>
<path d="M191.8 533.97H448.95" stroke="#000" stroke-width="1.7" stroke-dasharray="8.3 1.1 1.8 1.1" fill="none"/>
<rect x="191.8" y="373.9" width="257.15" height="177.20" fill="none" stroke="#3c3c3c" stroke-width="1.3"/>
<path d="M191.9 373.29999999999995V551.7" stroke="#000" stroke-width="1.3" fill="none"/>
<path d="M191.80 551.1v-5.4M191.80 373.9v5.4M281.67 551.1v-5.4M281.67 373.9v5.4M320.38 551.1v-5.4M320.38 373.9v5.4M410.25 551.1v-5.4M410.25 373.9v5.4M448.95 551.1v-5.4M448.95 373.9v5.4M230.50 551.1v-2.9M230.50 373.9v2.9M253.15 551.1v-2.9M253.15 373.9v2.9M269.21 551.1v-2.9M269.21 373.9v2.9M291.85 551.1v-2.9M291.85 373.9v2.9M300.46 551.1v-2.9M300.46 373.9v2.9M307.91 551.1v-2.9M307.91 373.9v2.9M314.49 551.1v-2.9M314.49 373.9v2.9M359.08 551.1v-2.9M359.08 373.9v2.9M381.72 551.1v-2.9M381.72 373.9v2.9M397.78 551.1v-2.9M397.78 373.9v2.9M420.43 551.1v-2.9M420.43 373.9v2.9M429.03 551.1v-2.9M429.03 373.9v2.9M436.49 551.1v-2.9M436.49 373.9v2.9M443.07 551.1v-2.9M443.07 373.9v2.9M191.8 551.10h5.4M448.95 551.10h-5.4M191.8 521.57h5.4M448.95 521.57h-5.4M191.8 492.03h5.4M448.95 492.03h-5.4M191.8 462.50h5.4M448.95 462.50h-5.4M191.8 432.97h5.4M448.95 432.97h-5.4M191.8 403.43h5.4M448.95 403.43h-5.4M191.8 373.90h5.4M448.95 373.90h-5.4" stroke="#000" stroke-width="1.15" fill="none"/>
<text class="tk" transform="translate(191.80 563.50) rotate(0.03)" text-anchor="middle">0.1</text>
<text class="tk" transform="translate(281.67 563.50) rotate(0.03)" text-anchor="middle">0.5</text>
<text class="tk" transform="translate(320.38 563.50) rotate(0.03)" text-anchor="middle">1</text>
<text class="tk" transform="translate(410.25 563.50) rotate(0.03)" text-anchor="middle">5</text>
<text class="tk" transform="translate(448.95 563.50) rotate(0.03)" text-anchor="middle">10</text>
<text class="tk" transform="translate(187.70 554.60) rotate(0.03)" text-anchor="end">0</text>
<text class="tk" transform="translate(187.70 525.07) rotate(0.03)" text-anchor="end">0.05</text>
<text class="tk" transform="translate(187.70 495.53) rotate(0.03)" text-anchor="end">0.1</text>
<text class="tk" transform="translate(187.70 466.00) rotate(0.03)" text-anchor="end">0.15</text>
<text class="tk" transform="translate(187.70 436.47) rotate(0.03)" text-anchor="end">0.2</text>
<text class="tk" transform="translate(187.70 406.93) rotate(0.03)" text-anchor="end">0.25</text>
<text class="tk" transform="translate(187.70 377.40) rotate(0.03)" text-anchor="end">0.3</text>
<text class="pl" transform="translate(195.1 389.2) rotate(0.03)">(b)</text>
<path d="M217.5 398.6H234" stroke="#000" stroke-width="1"/>
<path d="M217.5 409.1H234" stroke="#000" stroke-width="1.2" stroke-dasharray="3.6 1.4"/>
<text class="an lg" transform="translate(236.5 401.5) rotate(0.03)">CAGR</text>
<text class="an lg" transform="translate(236.5 411.9) rotate(0.03)">Resource limit</text>
<text class="ax" transform="translate(320.38 575.3) rotate(0.03)" text-anchor="middle">Cumulative VRFB Deployment through 2050 [TWh]</text>
<text class="ax" transform="translate(164.9 463.30) rotate(-90)" text-anchor="middle">Vanadium production CAGR</text>
</svg>
<p class="p cap"><span class="l"><b>Figure IV-3</b> – Compound annual growth rate (CAGR) of vanadium production needed to achieve</span><span class="l">various amounts of cumulative VRFB deployment by 2030 (a) and 2050 (b), relative to 2020,</span><span class="l">based on various scenarios of new fractional production routed to VRFB production over other</span><span class="l">applications (various shades of blue). The 2050 plot also shows the resource limit under each</span><span class="e">scenario (vertical dashed lines). The black horizontal lines show relevant historic CAGRs.</span></p>
<div class="pn">73</div>
</body></html>
